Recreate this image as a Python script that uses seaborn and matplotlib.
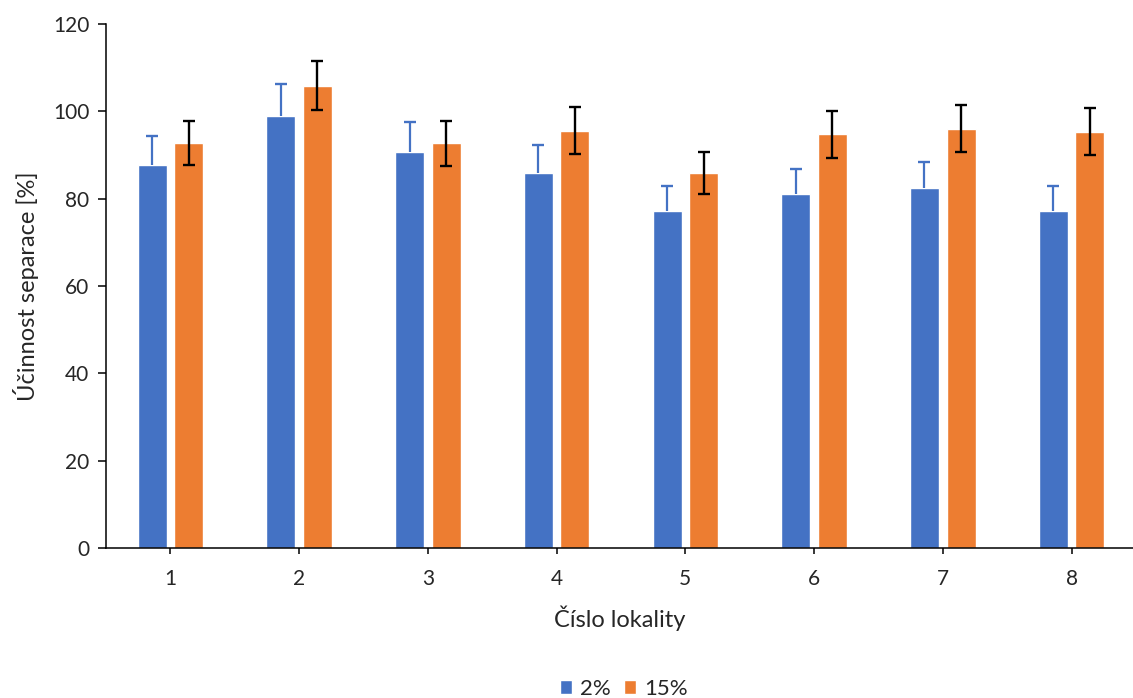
import pandas as pd
import seaborn as sns
import matplotlib.pyplot as plt
from matplotlib.patches import Patch

# values
lokality = ['1', '2', '3', '4', '5', '6', '7', '8']
ucinnost_2 = [87.7, 98.9, 90.8, 85.8, 77.2, 81.0, 82.4, 77.2]
chyba_2 = [6.6, 7.4, 6.7, 6.4, 5.8, 5.9, 6.1, 5.8]
ucinnost_15 = [92.8, 105.9, 92.7, 95.6, 85.9, 94.7, 96.0, 95.3]
chyba_15 = [5.1, 5.7, 5.2, 5.4, 4.8, 5.3, 5.4, 5.4]
serie = ['2%', '15%']

BLUE = '#4472C4'
ORANGE = '#ED7D31'


def build_frame():
    """
    Long format table for seaborn.
    """
    rows = []
    for name, values in zip(serie, [ucinnost_2, ucinnost_15]):
        for lok, v in zip(lokality, values):
            rows.append({'lokalita': lok, 'koncentrace': name, 'ucinnost': v})
    return pd.DataFrame(rows)


def main():
    df = build_frame()

    sns.set_style('white')
    plt.rcParams['font.family'] = ['Lato', 'DejaVu Sans']

    fig = plt.figure(figsize=(11.33, 6.98), dpi=100)
    ax = fig.add_axes([106 / 1133, 1 - 548 / 698, 1027 / 1133, 524 / 698])

    sns.barplot(data=df, x='lokalita', y='ucinnost', hue='koncentrace',
                order=lokality, hue_order=serie, palette=[BLUE, ORANGE],
                width=0.57, gap=0.21, errorbar=None, legend=False,
                saturation=1, ax=ax)

    # error bars: 2% only upwards (blue, single cap), 15% both ways (black)
    xs_blue = [p.get_x() + p.get_width() / 2 for p in ax.containers[0]]
    xs_orange = [p.get_x() + p.get_width() / 2 for p in ax.containers[1]]
    tops_blue = [v + e for v, e in zip(ucinnost_2, chyba_2)]
    ax.errorbar(xs_blue, ucinnost_2, yerr=[[0] * len(chyba_2), chyba_2],
                fmt='none', ecolor=BLUE, elinewidth=1.6, capsize=0)
    ax.plot(xs_blue, tops_blue, linestyle='none', marker='_',
            markersize=8.6, markeredgewidth=1.7, color=BLUE)
    ax.errorbar(xs_orange, ucinnost_15, yerr=chyba_15, fmt='none',
                ecolor='black', elinewidth=1.7, capsize=4.3, capthick=1.7)

    ax.set_ylim(0, 120)
    ax.set_yticks(range(0, 121, 20))
    ax.set_xlim(-0.5, 7.477)

    for side in ['top', 'right']:
        ax.spines[side].set_visible(False)
    for side in ['left', 'bottom']:
        ax.spines[side].set_color('black')
        ax.spines[side].set_linewidth(1.1)

    ax.tick_params(axis='y', which='major', left=True, length=6, width=1.1,
                   color='black', labelsize=15, pad=6)
    ax.tick_params(axis='x', which='major', bottom=True, length=4, width=1.1,
                   color='black', labelsize=15, pad=11)

    ax.set_xlabel('Číslo lokality', fontsize=17, labelpad=12)
    ax.set_ylabel('Účinnost separace [%]', fontsize=17, labelpad=10)

    handles = [Patch(facecolor=BLUE, label=serie[0]),
               Patch(facecolor=ORANGE, label=serie[1])]
    fig.legend(handles=handles, loc='lower center', ncol=2, frameon=False,
               bbox_to_anchor=(624 / 1133, -0.03), fontsize=16,
               handlelength=0.55, handleheight=0.55, handletextpad=0.35,
               columnspacing=0.6)

    fig.savefig('out.png', dpi=100)
    plt.close(fig)


if __name__ == "__main__":
    main()
